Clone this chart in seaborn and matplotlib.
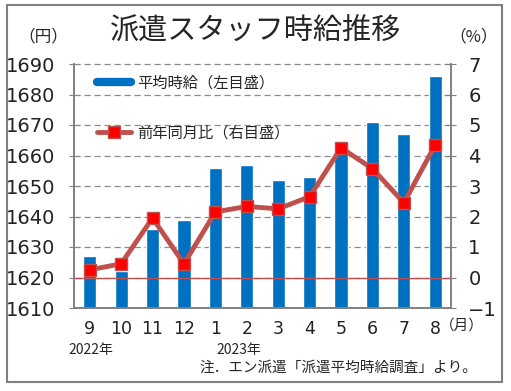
import numpy as np
import pandas as pd
import matplotlib
matplotlib.use('Agg')
import matplotlib.pyplot as plt
import seaborn as sns
from matplotlib.lines import Line2D
from matplotlib.patches import Rectangle


# Values
months = ['9', '10', '11', '12', '1', '2', '3', '4', '5', '6', '7', '8']
wage = [1627, 1622, 1636, 1639, 1656, 1657, 1652, 1653, 1663, 1671, 1667, 1686]
yoy = [0.25, 0.45, 1.95, 0.45, 2.15, 2.33, 2.25, 2.65, 4.25, 3.57, 2.45, 4.35]

bar_color = '#0070C0'
line_color = '#C0504D'

sns.set_style('white')
plt.rcParams['font.family'] = ['Noto Sans CJK JP', 'DejaVu Sans']

df = pd.DataFrame({'month': months, 'wage': wage, 'yoy': yoy, 'pos': np.arange(len(months))})

fig = plt.figure(figsize=(5.11, 3.91), dpi=100)
ax = fig.add_axes([74 / 511, 1 - 308 / 391, 377 / 511, 244 / 391])

# Bars (left axis)
sns.barplot(data=df, x='month', y='wage', color=bar_color, width=0.42,
            saturation=1, ax=ax, zorder=2)
ax.set_ylim(1610, 1690)
ax.set_yticks(np.arange(1610, 1691, 10))
ax.set_xlim(-0.5, len(months) - 0.5)
ax.set_xlabel('')
ax.set_ylabel('')
for y in range(1620, 1691, 10):
    ax.axhline(y, color='#8c8c8c', lw=0.9, ls=(0, (5, 3)), zorder=1, clip_on=False)

# Line (right axis)
ax2 = ax.twinx()
ax2.axhline(0, color=line_color, lw=1, zorder=1)
sns.lineplot(data=df, x='pos', y='yoy', color=line_color, lw=3.5, marker='s',
             markersize=9, markerfacecolor='#FF0000', markeredgecolor=line_color,
             markeredgewidth=1, ax=ax2, zorder=3)
ax2.set_ylim(-1, 7)
ax2.set_yticks(range(-1, 8))
ax2.set_xlabel('')
ax2.set_ylabel('')

for a in (ax, ax2):
    for side in ('left', 'right', 'bottom'):
        a.spines[side].set_color('#808080')
        a.spines[side].set_linewidth(1.2)
    a.spines['top'].set_visible(False)

ax.tick_params(axis='y', which='both', left=True, length=7, direction='inout',
               color='#808080', labelsize=14, pad=10)
ax.tick_params(axis='x', bottom=False, labelsize=12.5, pad=5)
ax2.tick_params(axis='y', right=True, length=7, direction='inout', color='#808080',
                labelsize=14, pad=9)
for lab in ax.get_yticklabels() + ax.get_xticklabels() + ax2.get_yticklabels():
    lab.set_fontfamily('DejaVu Sans')
    lab.set_color('#222222')

# Legend
handles = [Line2D([0], [0], color=bar_color, lw=6),
           Line2D([0], [0], color=line_color, lw=3.5, marker='s', markersize=8,
                  markerfacecolor='#FF0000', markeredgecolor=line_color)]
labels = ['平均時給（左目盛）', '前年同月比（右目盛）']
ax2.legend(handles, labels, loc='upper left', bbox_to_anchor=(0.025, 1.015),
           frameon=False, fontsize=11, labelspacing=2.2, handlelength=2.2,
           handletextpad=0.4)

# Titles and notes
fig.text(0.5, 1 - 32 / 391, '派遣スタッフ時給推移', ha='center', va='center', fontsize=21)
fig.text(43 / 511, 1 - 37 / 391, '（円）', ha='center', va='center', fontsize=12)
fig.text(474 / 511, 1 - 37 / 391, '（%）', ha='center', va='center', fontsize=12)
fig.text(462 / 511, 1 - 326 / 391, '（月）', ha='center', va='center', fontsize=10.5)
fig.text(91 / 511, 1 - 350 / 391, '2022年', ha='center', va='center', fontsize=10)
fig.text(239 / 511, 1 - 350 / 391, '2023年', ha='center', va='center', fontsize=10)
fig.text(477 / 511, 1 - 368 / 391, '注．エン派遣「派遣平均時給調査」より。', ha='right',
         va='center', fontsize=10.5)

# Outer frame
fig.patches.append(Rectangle((7 / 511, 1 - 382 / 391), 495 / 511, 377 / 391,
                             transform=fig.transFigure, fill=False,
                             edgecolor='#808080', lw=1.5))

fig.savefig('out.png', dpi=100)
